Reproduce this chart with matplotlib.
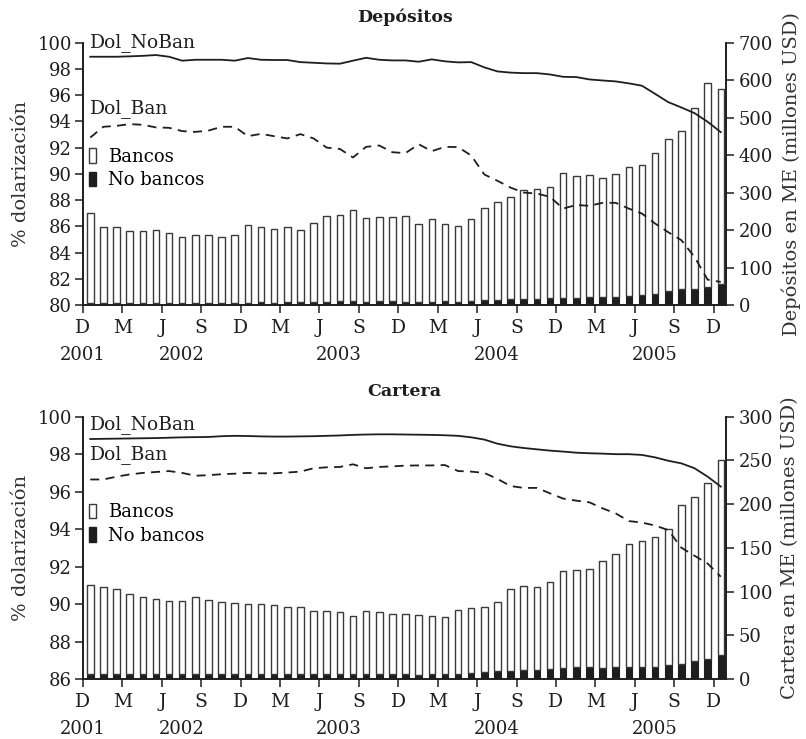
import matplotlib
matplotlib.use("Agg")
import matplotlib.pyplot as plt
from matplotlib.patches import Patch
import numpy as np

plt.rcParams["font.family"] = ["DejaVu Serif"]

# Monthly observations, December 2001 to December 2005
month_letters = ["D", "M", "J", "S"] * 4 + ["D"]
years = ["2001", "2002", "2003", "2004", "2005"]

# Depósitos: foreign-currency deposits (millones USD)
dep_no_bancos = [5, 5, 5, 5, 5, 5, 5, 5, 5, 6, 5, 6, 6, 7, 6, 7, 8, 7, 8, 11,
                 10, 8, 10, 10, 8, 7, 8, 10, 9, 10, 12, 14, 15, 16, 16, 18, 19, 19, 21, 20,
                 20, 23, 26, 29, 36, 42, 43, 49, 55]
dep_bancos = [240, 204, 202, 193, 192, 194, 188, 176, 182, 181, 176, 181, 208, 200, 198, 200, 193, 212, 230, 229,
              243, 224, 226, 224, 230, 209, 221, 207, 202, 220, 246, 260, 273, 291, 293, 298, 332, 324, 326, 319,
              330, 344, 348, 377, 407, 422, 483, 544, 522]
dep_dol_noban = [98.93, 98.93, 98.93, 98.96, 99.0, 99.06, 98.93, 98.63, 98.7, 98.7, 98.7, 98.63, 98.83, 98.7,
                 98.68, 98.68, 98.52, 98.47, 98.42, 98.4, 98.63, 98.85, 98.7, 98.65, 98.65, 98.55, 98.73, 98.58,
                 98.5, 98.52, 98.12, 97.81, 97.72, 97.68, 97.68, 97.58, 97.4, 97.38, 97.2, 97.12, 97.05, 96.9,
                 96.72, 96.1, 95.47, 95.06, 94.63, 93.97, 93.18]
dep_dol_ban = [92.77, 93.59, 93.66, 93.79, 93.74, 93.54, 93.51, 93.26, 93.2, 93.3, 93.59, 93.59, 92.87, 93.05,
               92.87, 92.7, 93.03, 92.7, 92.0, 91.9, 91.25, 92.06, 92.16, 91.65, 91.58, 92.26, 91.73, 92.06,
               92.04, 91.4, 89.95, 89.47, 88.95, 88.57, 88.5, 88.24, 87.35, 87.63, 87.56, 87.79, 87.79, 87.35,
               86.97, 86.21, 85.55, 84.94, 83.66, 81.93, 81.76]

# Cartera: foreign-currency loan portfolio (millones USD)
car_no_bancos = [6, 6, 6, 6, 6, 6, 5.5, 5.5, 6, 5.5, 5.5, 5.5, 6, 6, 5.5, 5.5, 6, 6, 6, 6,
                 6, 5.5, 6, 6, 6, 5, 5.5, 6, 6, 6.5, 7.5, 9.5, 9.5, 10.3, 10.7, 11.4, 12.2, 13.3, 13.3, 12.6,
                 14.1, 13.7, 14.1, 14.1, 16.0, 17.2, 20.2, 23.3, 27.4]
car_bancos = [101.5, 99.6, 96.5, 90.8, 87.8, 85.9, 83.3, 84.1, 87.4, 85.2, 82.6, 81.0, 79.4, 80.2, 79.5, 77.2,
              76.9, 72.1, 72.1, 71.0, 66.0, 72.6, 71.0, 68.7, 68.7, 68.2, 66.9, 64.9, 73.3, 75.1, 74.8, 78.6,
              93.0, 96.1, 94.9, 99.9, 111.7, 111.7, 112.9, 122.0, 129.2, 140.7, 143.7, 148.7, 155.2, 181.4,
              187.9, 200.5, 223.0]
car_dol_noban = [98.81, 98.82, 98.83, 98.84, 98.85, 98.86, 98.88, 98.9, 98.91, 98.92, 98.96, 98.98, 98.97,
                 98.95, 98.94, 98.94, 98.95, 98.96, 98.98, 99.0, 99.03, 99.05, 99.06, 99.06, 99.05, 99.04,
                 99.03, 99.01, 98.98, 98.9, 98.78, 98.56, 98.42, 98.33, 98.26, 98.19, 98.14, 98.08, 98.05,
                 98.03, 98.0, 98.0, 97.96, 97.83, 97.65, 97.51, 97.25, 96.8, 96.27]
car_dol_ban = [96.65, 96.65, 96.8, 96.92, 97.0, 97.05, 97.1, 97.0, 96.85, 96.88, 96.93, 96.96, 97.0, 96.98,
               96.98, 97.02, 97.07, 97.25, 97.3, 97.32, 97.46, 97.25, 97.32, 97.35, 97.39, 97.4, 97.4, 97.42,
               97.1, 97.07, 97.0, 96.68, 96.3, 96.2, 96.2, 95.91, 95.63, 95.52, 95.43, 95.11, 94.84, 94.43,
               94.35, 94.19, 93.95, 93.01, 92.58, 92.16, 91.46]

INK = "#1e1e1e"
EDGE = "#3a3a3a"

fig = plt.figure(figsize=(8.06, 7.39), dpi=100)


def panel(rect, title, bancos, no_bancos, noban, ban, ylim_left, yticks_left,
          ylim_right, yticks_right, right_label, legend_top, noban_y, ban_y):
    ax = fig.add_axes(rect)
    axr = ax.twinx()
    ax.set_zorder(axr.get_zorder() + 1)
    ax.patch.set_visible(False)

    n = len(bancos)
    x = np.arange(n) + 0.55
    axr.bar(x, no_bancos, width=0.5, color=INK, edgecolor=INK, linewidth=0.8)
    axr.bar(x, bancos, width=0.5, bottom=no_bancos, color="white",
            edgecolor=EDGE, linewidth=1.0)

    ax.plot(x, noban, color=INK, lw=1.3)
    ax.plot(x, ban, color=INK, lw=1.3, dashes=(5, 3.5))

    for a in (ax, axr):
        a.set_xlim(0, 48.95)
        a.spines["top"].set_visible(False)
        for s in a.spines.values():
            s.set_linewidth(1.2)
            s.set_color(INK)
        a.tick_params(axis="both", direction="out", length=6, width=1.1,
                      color=INK, labelsize=13, labelcolor=INK)
    ax.set_ylim(*ylim_left)
    ax.set_yticks(yticks_left)
    axr.set_ylim(*ylim_right)
    axr.set_yticks(yticks_right)
    ax.tick_params(axis="y", pad=2)
    axr.tick_params(axis="y", pad=3)

    ax.set_xticks(np.arange(0, 49, 3))
    ax.set_xticklabels(month_letters)
    ax.tick_params(axis="x", pad=4, labelsize=13.5)
    for i, yr in enumerate(years):
        xpos = 0 if i == 0 else 12 * i - 4.5
        ax.text(xpos, -0.19, yr, transform=ax.get_xaxis_transform(),
                ha="center", va="center", fontsize=13, color=INK)

    ax.set_title(title, fontsize=12.5, fontweight="bold", pad=15, color=INK)
    ax.set_ylabel("% dolarización", fontsize=14, color="#333333", labelpad=5)
    axr.set_ylabel(right_label, fontsize=14, color="#333333", labelpad=6)

    ax.text(0.5, noban_y, "Dol_NoBan", fontsize=13.5, va="center", ha="left", color=INK)
    ax.text(0.55, ban_y, "Dol_Ban", fontsize=13.5, va="center", ha="left", color=INK)

    handles = [Patch(facecolor="white", edgecolor=EDGE, linewidth=1.0),
               Patch(facecolor=INK, edgecolor=INK)]
    ax.legend(handles, ["Bancos", "No bancos"], loc="upper left",
              bbox_to_anchor=(0.01, legend_top), frameon=False, fontsize=13,
              handlelength=0.35, handleheight=0.85, handletextpad=0.7,
              labelspacing=0.3, borderpad=0, borderaxespad=0)
    return ax


panel([0.103, 0.5873, 0.7978, 0.3549], "Depósitos", dep_bancos, dep_no_bancos,
      dep_dol_noban, dep_dol_ban, (80, 100), np.arange(80, 101, 2),
      (0, 700), np.arange(0, 701, 100), "Depósitos en ME (millones USD)",
      0.60, 100.0, 95.0)

panel([0.103, 0.0812, 0.7978, 0.3549], "Cartera", car_bancos, car_no_bancos,
      car_dol_noban, car_dol_ban, (86, 100), np.arange(86, 101, 2),
      (0, 300), np.arange(0, 301, 50), "Cartera en ME (millones USD)",
      0.67, 99.56, 97.96)

fig.savefig("out.png", dpi=100)
